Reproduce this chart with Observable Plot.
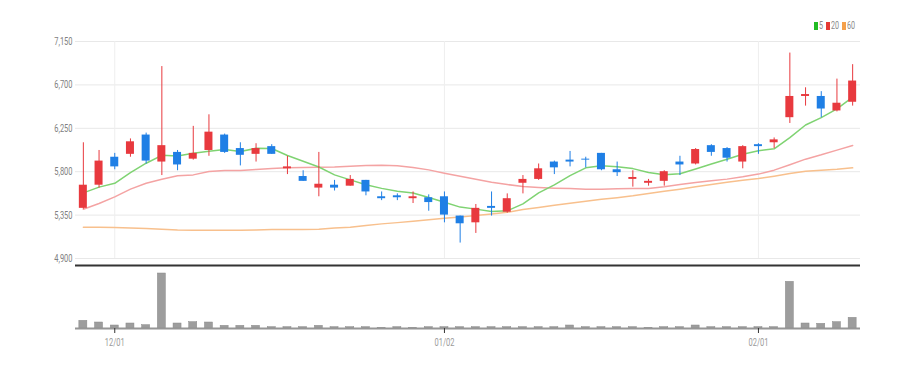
<!DOCTYPE html>
<html>
<head>
<meta charset="utf-8">
<script src="https://cdn.jsdelivr.net/npm/d3@7"></script>
<script src="https://cdn.jsdelivr.net/npm/@observablehq/plot@0.6"></script>
<style>
  body { margin: 0; background: #fff; }
  #wrap { position: relative; width: 914px; height: 368px; font-family: "Roboto", sans-serif; }
  #wrap svg { display: block; }
  #legend { position: absolute; left: 814px; top: 19px; font-size: 11px; color: #8a8a8a; display: flex; align-items: center; white-space: nowrap; }
  #legend .sw { display: inline-block; width: 4px; height: 8px; margin-right: 1px; }
  #legend .it { display: inline-flex; align-items: center; margin-right: 3px; }
  #legend .tx { display: inline-block; transform: scaleX(0.65); transform-origin: left center; }
</style>
</head>
<body>
<div id="wrap"><div id="legend"></div></div>
<script>
const dates = ["11/27","11/30","12/01","12/02","12/03","12/04","12/07","12/08","12/09","12/10",
  "12/11","12/14","12/15","12/16","12/17","12/18","12/21","12/22","12/23","12/24",
  "12/28","12/29","12/30","01/04","01/05","01/06","01/07","01/08","01/11","01/12",
  "01/13","01/14","01/15","01/18","01/19","01/20","01/21","01/22","01/25","01/26",
  "01/27","01/28","01/29","02/01","02/02","02/03","02/04","02/05","02/08","02/09"];
const open  = [5420,5660,5950,5980,6180,5900,6000,5930,6020,6180,6040,5980,6060,5830,5750,5630,5660,5650,5710,5540,
  5550,5520,5530,5540,5340,5270,5440,5380,5680,5720,5900,5920,5930,5990,5820,5720,5680,5700,5900,5880,
  6070,6040,5900,6080,6100,6360,6580,6580,6430,6520];
const high  = [6100,6020,5990,6140,6200,6890,6020,6270,6390,6190,6100,6090,6080,5960,5810,6000,5710,5760,5710,5590,
  5570,5590,5560,5590,5340,5460,5590,5570,5760,5880,5910,6010,5950,5990,5900,5810,5720,5810,5960,6040,
  6080,6050,6070,6090,6150,7030,6670,6630,6760,6910];
const low   = [5410,5630,5820,5950,5880,5760,5810,5920,5960,5990,5860,5900,5980,5770,5700,5540,5600,5650,5550,5500,
  5500,5470,5390,5270,5060,5160,5340,5370,5570,5710,5770,5850,5840,5810,5750,5640,5650,5650,5760,5870,
  5960,5900,5830,5980,6040,6300,6480,6360,6420,6480];
const close = [5660,5910,5850,6110,5910,6070,5870,5990,6210,6000,5970,6040,5980,5850,5700,5670,5630,5720,5590,5520,
  5530,5540,5480,5350,5260,5420,5420,5520,5720,5830,5840,5900,5920,5820,5790,5740,5700,5800,5870,6030,
  6000,5940,6060,6060,6130,6580,6600,6450,6510,6740];
const volume = [230,180,90,150,100,1650,150,190,180,80,80,80,40,40,40,80,40,40,40,15,
  40,15,40,40,40,40,40,40,40,40,40,90,40,40,40,40,15,40,40,90,
  40,40,40,40,40,1400,150,140,190,320];
const ma5  = [5580,5640,5680,5790,5888,5970,5963,5992,6012,6029,6009,6042,6040,5968,5908,5849,5767,5715,5664,5627,
  5598,5580,5532,5484,5433,5412,5387,5394,5467,5581,5663,5759,5840,5861,5852,5832,5792,5769,5779,5828,
  5880,5929,5981,6018,6037,6153,6284,6361,6451,6573];
const ma20 = [5411,5470,5539,5619,5681,5722,5757,5767,5802,5812,5812,5823,5833,5840,5843,5847,5850,5857,5864,5868,
  5861,5843,5819,5785,5753,5722,5691,5667,5646,5636,5629,5625,5619,5619,5622,5626,5626,5643,5667,5688,
  5705,5723,5747,5775,5816,5872,5930,5975,6024,6072];
const ma60 = [5224,5224,5221,5217,5210,5203,5196,5193,5193,5193,5193,5196,5200,5200,5200,5203,5217,5224,5241,5259,
  5272,5286,5303,5317,5331,5345,5362,5379,5407,5428,5452,5472,5493,5514,5531,5550,5574,5598,5619,5643,
  5667,5691,5712,5729,5754,5781,5805,5816,5826,5840];
const yTicks = [4900,5350,5800,6250,6700,7150];
const xTickDates = ["12/01","01/04","02/01"];
const xTickLabels = ["12/01","01/02","02/01"];
const maNames = ["5","20","60"];
const maColors = ["#7fd372","#f4a3a3","#f8c08d"];
const legendColors = ["#22bb22","#e53935","#f5a04a"];
const upColor = "#e8393e", downColor = "#1f7fe5";

const rows = dates.map((d, i) => ({date: d, open: open[i], high: high[i], low: low[i], close: close[i],
  volume: volume[i], ma5: ma5[i], ma20: ma20[i], ma60: ma60[i]}));
const candleColor = d => d.close >= d.open ? upColor : downColor;

const xScale = {type: "band", domain: dates, paddingInner: 0.49, paddingOuter: 0.245};
const font = "Roboto, sans-serif";

const price = Plot.plot({
  width: 914, height: 268,
  marginLeft: 75, marginRight: 54, marginTop: 41, marginBottom: 10,
  style: {fontFamily: font, background: "transparent"},
  x: {...xScale, axis: null},
  y: {domain: [4900, 7150], axis: null},
  color: {type: "identity"},
  marks: [
    Plot.gridY(yTicks, {stroke: "#e8e8e8", strokeOpacity: 1, strokeWidth: 1}),
    Plot.ruleX(xTickDates, {stroke: "#eeeeee", strokeWidth: 1}),
    Plot.axisY(yTicks, {tickSize: 0, tickPadding: 3, fontSize: 11, color: "#808080", label: null, tickFormat: d3.format(",")}),
    Plot.ruleY([4900], {dy: 7, stroke: "#333", strokeWidth: 2}),
    Plot.line(rows, {x: "date", y: "ma60", stroke: maColors[2], strokeWidth: 1.5}),
    Plot.line(rows, {x: "date", y: "ma20", stroke: maColors[1], strokeWidth: 1.5}),
    Plot.line(rows, {x: "date", y: "ma5", stroke: maColors[0], strokeWidth: 1.5}),
    Plot.ruleX(rows, {x: "date", y1: "low", y2: "high", stroke: candleColor, strokeWidth: 1}),
    Plot.barY(rows, {x: "date", y1: "open", y2: "close", fill: candleColor})
  ]
});

const vol = Plot.plot({
  width: 914, height: 100,
  marginLeft: 75, marginRight: 54, marginTop: 5, marginBottom: 40,
  style: {fontFamily: font, background: "transparent"},
  x: {...xScale, axis: null},
  y: {domain: [0, 1650], axis: null},
  marks: [
    Plot.barY(rows, {x: "date", y: "volume", fill: "#9d9d9d", stroke: "#8a8a8a", strokeWidth: 0.5}),
    Plot.ruleY([0], {stroke: "#969696", strokeWidth: 2}),
    Plot.axisX(xTickDates, {tickSize: 5, tickPadding: 5, fontSize: 11, stroke: "#333", fill: "#9a9a9a", label: null,
      tickFormat: d => xTickLabels[xTickDates.indexOf(d)]})
  ]
});

const wrap = document.getElementById("wrap");
wrap.appendChild(price);
wrap.appendChild(vol);

// condense axis label glyphs to match the narrow typeface of the original
for (const svg of [price, vol]) {
  svg.querySelectorAll("text").forEach(t => {
    const len = t.getComputedTextLength();
    if (len > 0) {
      t.setAttribute("textLength", (len * 0.68).toFixed(1));
      t.setAttribute("lengthAdjust", "spacingAndGlyphs");
    }
  });
}

const legend = document.getElementById("legend");
maNames.forEach((n, i) => {
  const it = document.createElement("span");
  it.className = "it";
  const sw = document.createElement("span");
  sw.className = "sw";
  sw.style.background = legendColors[i];
  it.appendChild(sw);
  const tx = document.createElement("span");
  tx.className = "tx";
  tx.textContent = n;
  tx.style.width = (n.length * 4.1) + "px";
  it.appendChild(tx);
  legend.appendChild(it);
});
</script>
</body>
</html>
